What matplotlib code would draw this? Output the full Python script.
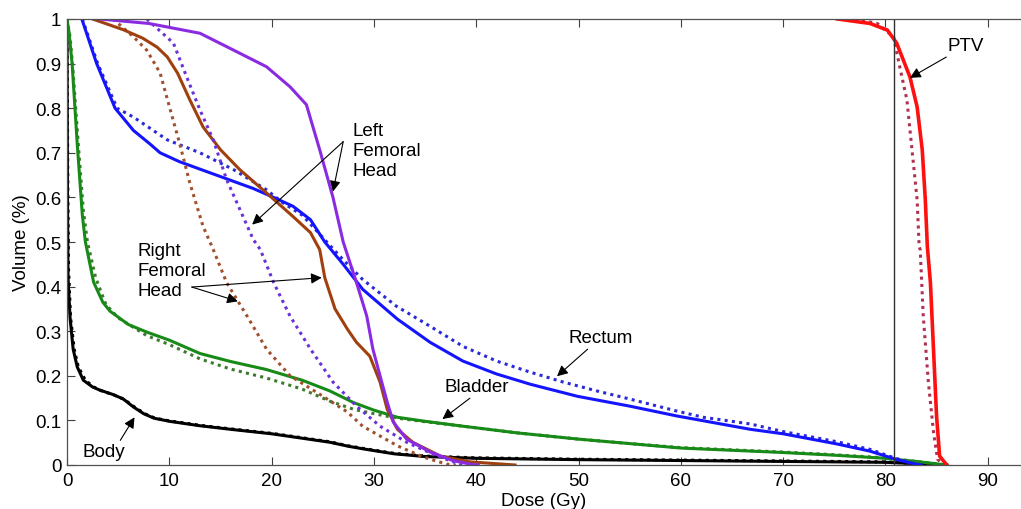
import matplotlib
matplotlib.use("Agg")
import matplotlib.pyplot as plt

plt.rcParams['font.family'] = ['Liberation Sans', 'DejaVu Sans']

# ---------------- data (dose Gy, volume fraction) ----------------
body_x = [0, 0.05, 0.1, 0.3, 0.6, 1, 1.6, 2.5, 3.2, 4.5, 5.5, 6.5, 7.5, 8.5, 10, 13, 16, 20, 23, 25.7, 27.5, 29, 32, 35, 40, 50, 60, 70, 80, 84, 86]
body_y = [1, 0.6, 0.42, 0.33, 0.26, 0.22, 0.19, 0.175, 0.168, 0.158, 0.148, 0.13, 0.115, 0.105, 0.098, 0.088, 0.08, 0.07, 0.06, 0.051, 0.042, 0.036, 0.025, 0.019, 0.015, 0.012, 0.01, 0.008, 0.006, 0.002, 0]
body_dot_x = [0, 0.08, 0.15, 0.35, 0.7, 1.1, 1.8, 2.6, 3.3, 4.6, 5.6, 6.6, 7.6, 8.6, 10, 13, 16, 20, 23, 25.7, 27.5, 29, 32, 35, 40, 50, 60, 70, 80, 84, 86]
body_dot_y = [1, 0.62, 0.44, 0.33, 0.26, 0.22, 0.19, 0.175, 0.167, 0.157, 0.147, 0.13, 0.115, 0.105, 0.099, 0.089, 0.081, 0.071, 0.061, 0.052, 0.043, 0.037, 0.026, 0.02, 0.016, 0.013, 0.011, 0.009, 0.007, 0.002, 0]

bladder_x = [0, 0.2, 0.5, 1.0, 1.5, 1.8, 2.6, 3.5, 4.2, 6, 7.8, 10, 13, 16, 19.5, 23, 25.7, 28, 30, 32.3, 35, 38.7, 44, 50, 55, 60, 65, 70, 75, 80, 83, 86]
bladder_y = [1, 0.97, 0.9, 0.72, 0.56, 0.5, 0.41, 0.365, 0.345, 0.315, 0.298, 0.28, 0.25, 0.232, 0.214, 0.19, 0.166, 0.14, 0.123, 0.107, 0.098, 0.087, 0.072, 0.058, 0.048, 0.038, 0.033, 0.028, 0.022, 0.015, 0.008, 0]
bladder_dot_x = [0, 0.3, 0.6, 1.1, 1.6, 2, 2.8, 3.8, 5, 7.8, 10, 13, 16, 19.5, 23, 25.7, 28, 30, 32.3, 35, 38.7, 44, 50, 55, 60, 65, 70, 75, 80, 83, 86]
bladder_dot_y = [1, 0.96, 0.88, 0.72, 0.57, 0.5, 0.42, 0.36, 0.33, 0.29, 0.27, 0.238, 0.215, 0.195, 0.17, 0.143, 0.125, 0.115, 0.105, 0.097, 0.087, 0.072, 0.058, 0.048, 0.039, 0.034, 0.029, 0.023, 0.016, 0.008, 0]

rectum_x = [1.45, 2.9, 4.7, 6.5, 8.1, 9.1, 11, 14.6, 18.2, 20.2, 22.1, 23.8, 25.2, 27, 28.9, 32.3, 35.5, 38.7, 42, 45.3, 49.9, 55, 59.6, 62, 66.8, 70, 75.3, 78.5, 81, 82.7, 83.5]
rectum_y = [1, 0.9, 0.8, 0.75, 0.72, 0.7, 0.68, 0.65, 0.62, 0.6, 0.58, 0.55, 0.5, 0.45, 0.394, 0.327, 0.275, 0.233, 0.204, 0.181, 0.154, 0.132, 0.11, 0.1, 0.08, 0.07, 0.047, 0.031, 0.013, 0.003, 0]
rectum_dot_x = [1.5, 3.0, 4.9, 6.5, 9.8, 13, 16.3, 19.5, 21.1, 23, 25, 27, 28.9, 32.2, 35.5, 38.7, 42, 45.3, 48.5, 51.8, 55, 59.6, 62.2, 66.8, 70, 75.3, 78.5, 81, 82.7, 83.5]
rectum_dot_y = [1, 0.9, 0.8, 0.78, 0.729, 0.7, 0.662, 0.617, 0.588, 0.56, 0.51, 0.46, 0.416, 0.356, 0.311, 0.266, 0.233, 0.208, 0.186, 0.166, 0.148, 0.121, 0.107, 0.092, 0.075, 0.052, 0.035, 0.015, 0.004, 0]

lfh_x = [3.2, 8, 13, 16.3, 19.5, 21.8, 23.4, 24.7, 26, 27, 28.3, 29.3, 29.9, 30.6, 31.3, 31.9, 33.2, 35.5, 37.7, 39.4, 40.2]
lfh_y = [1, 0.99, 0.968, 0.93, 0.893, 0.848, 0.808, 0.707, 0.6, 0.5, 0.409, 0.334, 0.26, 0.2, 0.141, 0.096, 0.058, 0.029, 0.01, 0.002, 0]
lfh_dot_x = [7.8, 10.4, 11.7, 13, 14.3, 15.6, 16.9, 18.2, 18.9, 20.2, 21.8, 23.8, 26, 28.3, 30.6, 33.2, 36.2, 38.4, 39]
lfh_dot_y = [1, 0.946, 0.87, 0.796, 0.729, 0.64, 0.573, 0.506, 0.483, 0.409, 0.334, 0.26, 0.186, 0.132, 0.087, 0.051, 0.02, 0.002, 0]

rfh_x = [2.5, 5.5, 7.4, 8.8, 9.8, 10.8, 12, 13.3, 15, 16.9, 19.5, 22.1, 23.8, 24.7, 25.2, 26.2, 27.4, 28.3, 29.6, 30.6, 31.3, 32.3, 33.8, 36.5, 39.4, 43.8]
rfh_y = [1, 0.976, 0.957, 0.937, 0.915, 0.879, 0.819, 0.758, 0.707, 0.662, 0.61, 0.557, 0.521, 0.483, 0.42, 0.35, 0.305, 0.275, 0.244, 0.186, 0.125, 0.08, 0.051, 0.02, 0.007, 0]
rfh_dot_x = [4.5, 6.5, 7.8, 9.1, 10.1, 11, 12, 13.3, 14.3, 15.6, 17.6, 19.5, 21.8, 24.4, 27.4, 28.9, 32.3, 34.8, 37.1, 38]
rfh_dot_y = [1, 0.96, 0.93, 0.879, 0.796, 0.722, 0.633, 0.535, 0.483, 0.409, 0.334, 0.26, 0.2, 0.163, 0.119, 0.087, 0.043, 0.018, 0.002, 0]

ptv_x = [75.3, 78.5, 80.2, 81.1, 82.4, 83.1, 83.6, 83.9, 84.1, 84.4, 84.7, 85, 85.3, 86]
ptv_y = [1, 0.99, 0.975, 0.946, 0.87, 0.803, 0.707, 0.595, 0.49, 0.409, 0.26, 0.11, 0.02, 0]
ptv_dot_x = [77, 79.2, 80.8, 81.4, 82.1, 82.6, 83.1, 83.3, 83.4, 83.7, 84.2, 84.7, 85.1, 85.7]
ptv_dot_y = [1, 0.99, 0.96, 0.893, 0.819, 0.707, 0.595, 0.49, 0.483, 0.334, 0.186, 0.074, 0.013, 0]

ref_dose = 80.8
x_ticks = [0, 10, 20, 30, 40, 50, 60, 70, 80, 90]
y_ticks = [0, 0.1, 0.2, 0.3, 0.4, 0.5, 0.6, 0.7, 0.8, 0.9, 1]
y_tick_labels = ['0', '0.1', '0.2', '0.3', '0.4', '0.5', '0.6', '0.7', '0.8', '0.9', '1']

# ---------------- figure ----------------
W, H = 1021, 510
fig = plt.figure(figsize=(W / 100, H / 100), dpi=100)
ax = fig.add_axes([67 / W, 44 / H, (W - 67) / W, 446 / H])

dot = (0, (1, 1.4))
lw_s, lw_d = 2.2, 2.2

ax.plot(body_dot_x, body_dot_y, color='#000000', lw=lw_d, ls=dot)
ax.plot(body_x, body_y, color='#000000', lw=lw_s)
ax.plot(bladder_dot_x, bladder_dot_y, color='#3c7a2c', lw=lw_d, ls=dot)
ax.plot(bladder_x, bladder_y, color='#178a17', lw=lw_s)
ax.plot(rectum_dot_x, rectum_dot_y, color='#2a2ad8', lw=lw_d, ls=dot)
ax.plot(rectum_x, rectum_y, color='#1414ff', lw=lw_s)
ax.plot(rfh_dot_x, rfh_dot_y, color='#a0502d', lw=lw_d, ls=dot)
ax.plot(rfh_x, rfh_y, color='#a0400f', lw=lw_s)
ax.plot(lfh_dot_x, lfh_dot_y, color='#6a32d8', lw=lw_d, ls=dot)
ax.plot(lfh_x, lfh_y, color='#8a2be2', lw=lw_s)
ax.plot(ptv_dot_x, ptv_dot_y, color='#b03050', lw=lw_d, ls=dot)
ax.plot(ptv_x, ptv_y, color='#ff1010', lw=lw_s + 0.4)

ax.axvline(ref_dose, color='#303030', lw=1.0)

ax.set_xlim(0, (W - 67) / 10.23)
ax.set_ylim(0, 1)
ax.set_xticks(x_ticks)
ax.set_yticks(y_ticks)
ax.set_yticklabels(y_tick_labels)
ax.tick_params(direction='in', length=6, width=0.8, colors='#404040',
               labelcolor='black', labelsize=13.5, top=True, right=False)
ax.tick_params(axis='x', pad=5)
ax.tick_params(axis='y', pad=4)
for s in ['left', 'bottom', 'top']:
    ax.spines[s].set_color('#505050')
    ax.spines[s].set_linewidth(0.9)
ax.spines['right'].set_visible(False)

ax.set_xlabel('Dose (Gy)', fontsize=13.5, labelpad=2)
ax.set_ylabel('Volume (%)', fontsize=13.5, labelpad=4)

ap = dict(arrowstyle='-|>', color='black', lw=0.8, mutation_scale=16,
          shrinkA=0, shrinkB=0)
fs = 13.5
ax.annotate('PTV', xy=(82.4, 0.868), xytext=(86.1, 0.94), fontsize=fs,
            ha='left', va='center', arrowprops=ap)
ax.annotate('Rectum', xy=(47.9, 0.199), xytext=(49.0, 0.285), fontsize=fs,
            ha='left', va='center', arrowprops=dict(ap, relpos=(0.35, 0.0)))
ax.annotate('Bladder', xy=(36.7, 0.103), xytext=(36.9, 0.175), fontsize=fs,
            ha='left', va='center', arrowprops=dict(ap, relpos=(0.45, 0.0)))
ax.annotate('Body', xy=(6.6, 0.107), xytext=(1.5, 0.03), fontsize=fs,
            ha='left', va='center', arrowprops=dict(ap, relpos=(0.85, 1.0)))

ax.text(6.9, 0.436, 'Right\nFemoral\nHead', fontsize=fs, ha='left', va='center',
        linespacing=1.22)
ax.annotate('', xy=(24.9, 0.42), xytext=(12.2, 0.399), arrowprops=ap)
ax.annotate('', xy=(16.7, 0.367), xytext=(12.2, 0.399), arrowprops=ap)

ax.text(27.9, 0.705, 'Left\nFemoral\nHead', fontsize=fs, ha='left', va='center',
        linespacing=1.22)
ax.annotate('', xy=(18.1, 0.539), xytext=(27.0, 0.725), arrowprops=ap)
ax.annotate('', xy=(26.0, 0.613), xytext=(27.0, 0.725), arrowprops=ap)

fig.savefig('out.png', dpi=100)
